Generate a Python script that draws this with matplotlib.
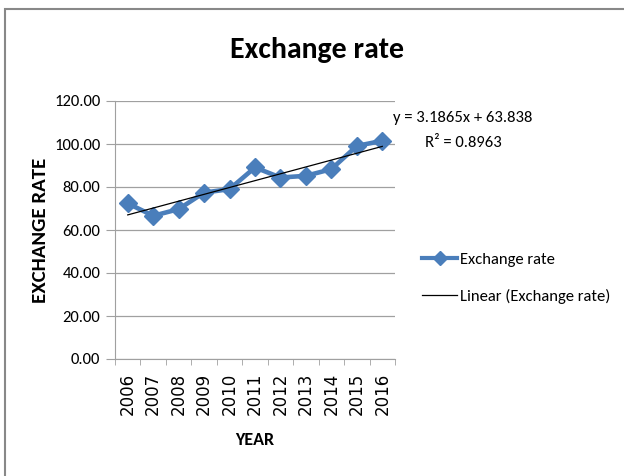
import matplotlib.pyplot as plt
from matplotlib.lines import Line2D
from matplotlib.patches import Rectangle

# Data
years = ["2006", "2007", "2008", "2009", "2010", "2011",
         "2012", "2013", "2014", "2015", "2016"]
rates = [72.4, 66.6, 69.7, 77.4, 79.0, 89.1, 84.4, 85.2, 88.3, 99.1, 101.5]

# Trend line coefficients shown on the chart
slope = 3.1865
intercept = 63.838
r_squared = 0.8963

blue = "#4A7EBB"
grey = "#A0A0A0"
font = ["Carlito", "DejaVu Sans"]

fig = plt.figure(figsize=(6.24, 4.76), dpi=100)
# outer chart frame
fig.patches.append(Rectangle((5 / 624, -0.01), 1.0, 1 - 9 / 476 + 0.01,
                             transform=fig.transFigure, fill=False,
                             edgecolor="#888888", linewidth=1.5))

ax = fig.add_axes([115 / 624, 1 - 359 / 476, 280 / 624, 258 / 476])

x = list(range(1, len(years) + 1))
ax.plot(x, rates, color=blue, linewidth=3.3, marker="D", markersize=9,
        zorder=3)
trend = [slope * xi + intercept for xi in x]
ax.plot(x, trend, color="black", linewidth=0.9, zorder=4)

ax.set_xlim(0.5, len(years) + 0.5)
ax.set_ylim(0, 120)
ax.set_yticks(range(0, 121, 20))
ax.set_yticklabels([f"{v:.2f}" for v in range(0, 121, 20)],
                   family=font, fontsize=12)
ax.set_xticks(x)
ax.set_xticklabels(years, rotation=90, fontsize=12, family="DejaVu Sans")
ax.set_xticks([i + 0.5 for i in range(0, len(years) + 1)], minor=True)
ax.tick_params(axis="x", which="major", length=0, pad=10)
ax.tick_params(axis="x", which="minor", length=4.5, color=grey)
ax.tick_params(axis="y", length=6.5, pad=4, color=grey)
ax.grid(axis="y", color=grey, linewidth=0.9)
ax.set_axisbelow(True)
for side in ["top", "right"]:
    ax.spines[side].set_visible(False)
for side in ["left", "bottom"]:
    ax.spines[side].set_color(grey)

fig.text(317 / 624, 1 - 50 / 476, "Exchange rate", ha="center", va="center",
         fontsize=21.5, fontweight="bold", family=font)
fig.text(41 / 624, 1 - 230 / 476, "EXCHANGE RATE", rotation=90, ha="center",
         va="center", fontsize=15, fontweight="bold", family=font)
fig.text(255 / 624, 1 - 440 / 476, "YEAR", ha="center", va="center",
         fontsize=13, fontweight="bold", family=font)

fig.text(393 / 624, 1 - 118 / 476, f"y = {slope}x + {intercept}",
         ha="left", va="center", fontsize=12, family=font)
fig.text(425 / 624, 1 - 143 / 476, f"R² = {r_squared}",
         ha="left", va="center", fontsize=12, family=font)

handles = [Line2D([], [], color=blue, linewidth=3, marker="D", markersize=7),
           Line2D([], [], color="black", linewidth=0.9)]
fig.legend(handles, ["Exchange rate", "Linear (Exchange rate)"],
           loc="center left", bbox_to_anchor=(422 / 624, 1 - 278 / 476),
           frameon=False, borderpad=0, borderaxespad=0,
           handlelength=2.1, handletextpad=0.15,
           labelspacing=1.3, prop={"family": font, "size": 12})

fig.savefig("out.png", dpi=100)
